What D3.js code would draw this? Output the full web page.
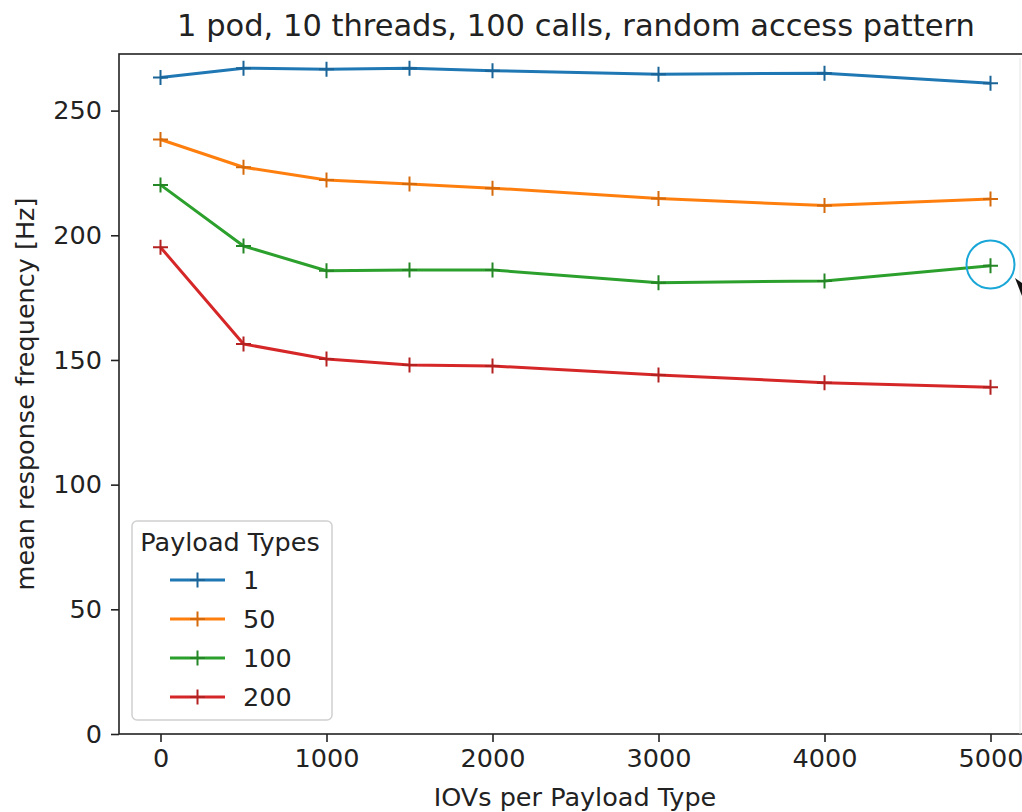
<!DOCTYPE html>
<html>
<head>
<meta charset="utf-8">
<script src="https://cdn.jsdelivr.net/npm/d3@7"></script>
<style>
  body { margin: 0; background: #fff; }
  svg { display: block; font-family: "DejaVu Sans", sans-serif; }
</style>
</head>
<body>
<svg width="1022" height="812"></svg>
<script>
// data
var iovs = [0, 500, 1000, 1500, 2000, 3000, 4000, 5000];
var payloadTypes = ["1", "50", "100", "200"];
var freq1   = [263.3, 267.0, 266.6, 267.0, 266.0, 264.6, 265.0, 261.0];
var freq50  = [238.4, 227.3, 222.2, 220.6, 218.9, 214.8, 211.9, 214.6];
var freq100 = [220.2, 195.7, 185.8, 186.1, 186.1, 181.0, 181.7, 187.8];
var freq200 = [195.2, 156.4, 150.4, 148.0, 147.6, 144.0, 140.9, 139.1];
var xTicks = [0, 1000, 2000, 3000, 4000, 5000];
var yTicks = [0, 50, 100, 150, 200, 250];
var colors = ["#1f77b4", "#ff7f0e", "#2ca02c", "#d62728"];

var series = [freq1, freq50, freq100, freq200].map(function (vals, i) {
    return {
        name: payloadTypes[i],
        color: colors[i],
        values: vals.map(function (v, j) { return {x: iovs[j], y: v}; })
    };
});

var svg = d3.select("svg");

var plotLeft = 119, plotRight = 1032, plotTop = 54, plotBottom = 734;
var fs = "25.5px";

var x = d3.scaleLinear().domain([-250, 5250]).range([plotLeft, plotRight]);
var y = d3.scaleLinear().domain([0, 272.7]).range([plotBottom, plotTop]);

// axes
var xAxis = svg.append("g")
    .attr("transform", "translate(0," + plotBottom + ")")
    .call(d3.axisBottom(x).tickValues(xTicks).tickFormat(d3.format("d"))
        .tickSize(8).tickPadding(7).tickSizeOuter(0));
var yAxis = svg.append("g")
    .attr("transform", "translate(" + plotLeft + ",0)")
    .call(d3.axisLeft(y).tickValues(yTicks).tickFormat(d3.format("d"))
        .tickSize(8).tickPadding(9).tickSizeOuter(0));

[xAxis, yAxis].forEach(function (a) {
    a.select(".domain").remove();
    a.selectAll(".tick line").attr("stroke", "#222").attr("stroke-width", 1.6);
    a.selectAll(".tick text")
        .attr("fill", "#222")
        .style("font-size", fs)
        .style("font-family", "DejaVu Sans, sans-serif");
});

// frame
svg.append("rect")
    .attr("x", plotLeft).attr("y", plotTop)
    .attr("width", plotRight - plotLeft).attr("height", plotBottom - plotTop)
    .attr("fill", "none").attr("stroke", "#222").attr("stroke-width", 1.6);

// faint edge line of the screenshot
svg.append("line")
    .attr("x1", 1020).attr("x2", 1020).attr("y1", plotTop + 4).attr("y2", plotBottom)
    .attr("stroke", "#e4e4e4").attr("stroke-width", 1);

var line = d3.line()
    .x(function (d) { return x(d.x); })
    .y(function (d) { return y(d.y); });

var g = svg.append("g").selectAll("g")
    .data(series)
    .enter().append("g");

g.append("path")
    .attr("d", function (d) { return line(d.values); })
    .attr("fill", "none")
    .attr("stroke", function (d) { return d.color; })
    .attr("stroke-width", 3)
    .attr("stroke-linejoin", "round");

var ms = 7.5;
g.selectAll(".mk")
    .data(function (d) { return d.values.map(function (v) { return {x: v.x, y: v.y, c: d.color}; }); })
    .enter().append("path")
    .attr("class", "mk")
    .attr("d", function (d) {
        var px = x(d.x), py = y(d.y);
        return "M" + (px - ms) + "," + py + "H" + (px + ms) + "M" + px + "," + (py - ms) + "V" + (py + ms);
    })
    .attr("stroke", function (d) { return d3.color(d.c).darker(0.5); })
    .attr("stroke-width", 2);

// title and labels
svg.append("text")
    .attr("x", 576).attr("y", 36)
    .attr("text-anchor", "middle")
    .attr("fill", "#222")
    .style("font-size", "30.5px")
    .text("1 pod, 10 threads, 100 calls, random access pattern");

svg.append("text")
    .attr("x", 575).attr("y", 806)
    .attr("text-anchor", "middle")
    .attr("fill", "#222")
    .style("font-size", fs)
    .text("IOVs per Payload Type");

svg.append("text")
    .attr("transform", "translate(34," + ((plotTop + plotBottom) / 2) + ") rotate(-90)")
    .attr("text-anchor", "middle")
    .attr("fill", "#222")
    .style("font-size", fs)
    .text("mean response frequency [Hz]");

// legend
var legend = svg.append("g").attr("transform", "translate(132,521)");
legend.append("rect")
    .attr("width", 200).attr("height", 199)
    .attr("rx", 5)
    .attr("fill", "#fff").attr("fill-opacity", 0.8)
    .attr("stroke", "#d0d0d0").attr("stroke-width", 1.5);
legend.append("text")
    .attr("x", 98).attr("y", 30)
    .attr("text-anchor", "middle")
    .attr("fill", "#222")
    .style("font-size", fs)
    .text("Payload Types");

var item = legend.selectAll(".item")
    .data(series)
    .enter().append("g")
    .attr("class", "item")
    .attr("transform", function (d, i) { return "translate(0," + (59 + i * 39) + ")"; });
item.append("line")
    .attr("x1", 38).attr("x2", 93)
    .attr("stroke", function (d) { return d.color; })
    .attr("stroke-width", 3);
item.append("path")
    .attr("d", "M" + (65.5 - ms) + ",0H" + (65.5 + ms) + "M65.5," + (-ms) + "V" + ms)
    .attr("stroke", function (d) { return d3.color(d.color).darker(0.5); })
    .attr("stroke-width", 2);
item.append("text")
    .attr("x", 111).attr("y", 9)
    .attr("fill", "#222")
    .style("font-size", fs)
    .text(function (d) { return d.name; });

// highlight circle and pointer from the screenshot
svg.append("circle")
    .attr("cx", x(5000)).attr("cy", 264.5).attr("r", 24)
    .attr("fill", "none").attr("stroke", "#1aa7d8").attr("stroke-width", 2);
svg.append("path")
    .attr("d", "M1015,278L1022,283L1022,296Z")
    .attr("fill", "#111");
</script>
</body>
</html>
